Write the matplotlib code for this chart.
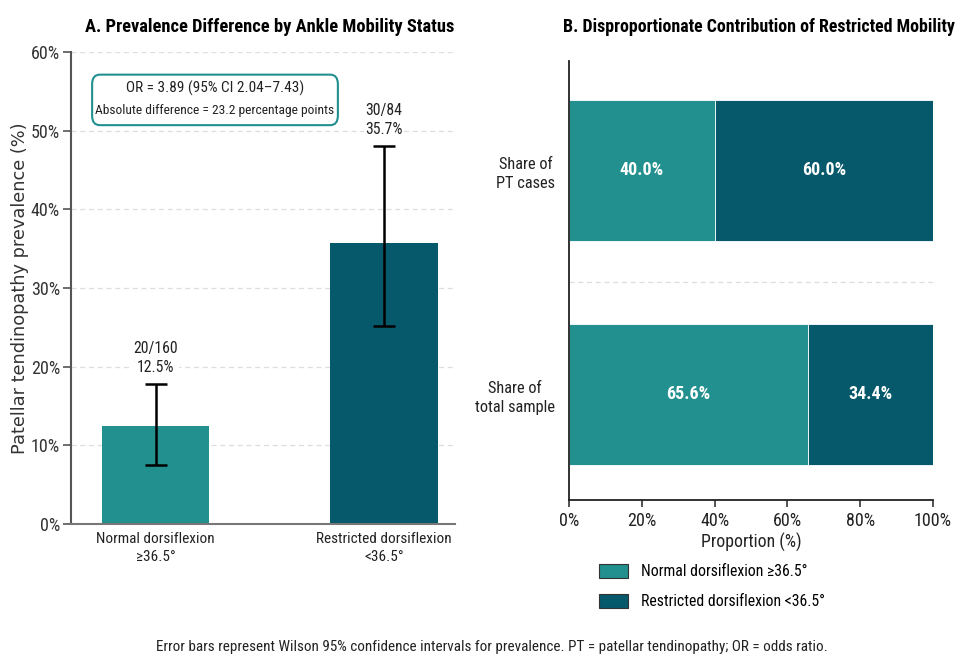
import matplotlib
matplotlib.use("Agg")
import matplotlib.pyplot as plt
from matplotlib import font_manager
from matplotlib.patches import Patch, FancyBboxPatch

# ---- data ----
groups = ["Normal dorsiflexion\n≥36.5°", "Restricted dorsiflexion\n<36.5°"]
prevalence = [12.5, 35.7]
ci_low = [7.5, 25.2]
ci_high = [17.8, 48.0]
counts = ["20/160", "30/84"]

share_cats = ["Share of\ntotal sample", "Share of\nPT cases"]
share_normal = [65.6, 40.0]
share_restricted = [34.4, 60.0]
legend_labels = ["Normal dorsiflexion ≥36.5°", "Restricted dorsiflexion <36.5°"]

left_ticks = [0, 10, 20, 30, 40, 50, 60]
right_ticks = [0, 20, 40, 60, 80, 100]

# ---- fonts ----
avail = {f.name for f in font_manager.fontManager.ttflist}
fam = "Roboto"
for c in ["Liberation Sans Narrow", "Arial Narrow", "Roboto Condensed", "PT Sans Narrow",
          "Asap Condensed", "Barlow Semi Condensed"]:
    if c in avail:
        fam = c
        break
plt.rcParams["font.family"] = [fam, "DejaVu Sans"]

C_LIGHT = "#21908f"
C_DARK = "#06586b"
W, H = 956, 655
fig = plt.figure(figsize=(W / 100, H / 100), dpi=100)
fig.patch.set_facecolor("white")

def rect(x0, y0, x1, y1):
    return [x0 / W, 1 - y1 / H, (x1 - x0) / W, (y1 - y0) / H]

# ---- panel A ----
ax = fig.add_axes(rect(71, 52, 455, 524))
x = [0, 1]
yerr = [[p - l for p, l in zip(prevalence, ci_low)], [h - p for p, h in zip(prevalence, ci_high)]]
ax.bar(x, prevalence, width=0.47, color=[C_LIGHT, C_DARK], zorder=2)
ax.errorbar(x, prevalence, yerr=yerr, fmt="none", ecolor="black", elinewidth=1.8,
            capsize=8, capthick=1.8, zorder=3)
for xi, h, c, p in zip(x, ci_high, counts, prevalence):
    ax.text(xi, h + 1.2, f"{c}\n{p:.1f}%", ha="center", va="bottom", fontsize=11.3,
            color="#222222", linespacing=1.3, zorder=4,
            bbox=dict(facecolor="white", edgecolor="none", pad=1))
ax.set_xlim(-0.37, 1.31)
ax.set_ylim(0, 60)
ax.set_yticks(left_ticks)
ax.set_yticklabels([f"{t}%" for t in left_ticks], fontsize=13, color="#333333")
ax.set_xticks(x)
ax.set_xticklabels(groups, fontsize=11, color="#222222", linespacing=1.35)
ax.tick_params(axis="x", length=0, pad=6)
ax.tick_params(axis="y", length=6, width=1.2, color="#555555", pad=2)
ax.grid(axis="y", linestyle=(0, (4, 3)), color="#dddddd", linewidth=0.9, zorder=0)
ax.set_axisbelow(True)
for s in ["top", "right"]:
    ax.spines[s].set_visible(False)
ax.spines["left"].set_color("#555555")
ax.spines["left"].set_linewidth(1.5)
ax.spines["bottom"].set_color("#777777")
ax.spines["bottom"].set_linewidth(1.5)
ax.set_ylabel("Patellar tendinopathy prevalence (%)", fontsize=12.8, color="#333333",
              family="DejaVu Sans")
ax.yaxis.set_label_coords(-0.11, 0.5)
ax.text(0.375, 0.922, "OR = 3.89 (95% CI 2.04–7.43)",
        transform=ax.transAxes, ha="center", va="center", fontsize=11, color="#222222")
ax.text(0.375, 0.876, "Absolute difference = 23.2 percentage points",
        transform=ax.transAxes, ha="center", va="center", fontsize=9.7, color="#222222")
box = FancyBboxPatch((0.06, 0.85), 0.63, 0.097, boxstyle="round,pad=0.005,rounding_size=0.02",
                     transform=ax.transAxes, facecolor="white", edgecolor=C_LIGHT,
                     linewidth=1.5, zorder=1)
ax.add_patch(box)

# ---- panel B ----
bx = fig.add_axes(rect(569, 61, 933, 500))
yy = [0, 1]
bx.barh(yy, share_normal, height=0.63, color=C_LIGHT, edgecolor="white", linewidth=0.6, zorder=2)
bx.barh(yy, share_restricted, left=share_normal, height=0.63, color=C_DARK,
        edgecolor="white", linewidth=0.6, zorder=2)
for yi, a, b in zip(yy, share_normal, share_restricted):
    bx.text(a / 2, yi, f"{a:.1f}%", ha="center", va="center", color="white",
            fontsize=13, fontweight="bold", zorder=3)
    bx.text(a + b / 2, yi, f"{b:.1f}%", ha="center", va="center", color="white",
            fontsize=13, fontweight="bold", zorder=3)
bx.axhline(0.5, linestyle=(0, (4, 3)), color="#dddddd", linewidth=0.9, zorder=0)
bx.set_xlim(0, 100)
bx.set_ylim(-0.473, 1.487)
bx.set_yticks(yy)
bx.set_yticklabels(share_cats, fontsize=11.8, color="#222222", multialignment="center",
                   linespacing=1.4)
bx.tick_params(axis="y", length=0, pad=10)
bx.set_xticks(right_ticks)
bx.set_xticklabels([f"{t}%" for t in right_ticks], fontsize=13, color="#222222")
bx.tick_params(axis="x", length=5, width=1.2, color="#333333")
for s in ["top", "right"]:
    bx.spines[s].set_visible(False)
for s in ["left", "bottom"]:
    bx.spines[s].set_color("#222222")
    bx.spines[s].set_linewidth(1.3)
bx.set_xlabel("Proportion (%)", fontsize=12.8, color="#222222", labelpad=2)
handles = [Patch(facecolor=C_LIGHT, edgecolor="#333333", linewidth=0.8),
           Patch(facecolor=C_DARK, edgecolor="#333333", linewidth=0.8)]
fig.legend(handles, legend_labels, loc="upper left", bbox_to_anchor=(599 / W, 1 - 564 / H),
           frameon=False, fontsize=11.3, handlelength=1.85, handleheight=0.95,
           labelspacing=0.95, handletextpad=0.85, borderpad=0, borderaxespad=0)

# ---- titles & footnote ----
fig.text(270 / W, 1 - 27 / H, "A. Prevalence Difference by Ankle Mobility Status",
         ha="center", va="center", fontsize=13.3, fontweight="bold")
fig.text(955 / W, 1 - 27 / H, "B. Disproportionate Contribution of Restricted Mobility",
         ha="right", va="center", fontsize=12.9, fontweight="bold")
fig.text(492 / W, 1 - 647 / H,
         "Error bars represent Wilson 95% confidence intervals for prevalence. PT = patellar tendinopathy; OR = odds ratio.",
         ha="center", va="center", fontsize=10.9, color="#222222")

fig.savefig("out.png", dpi=100, facecolor="white")
